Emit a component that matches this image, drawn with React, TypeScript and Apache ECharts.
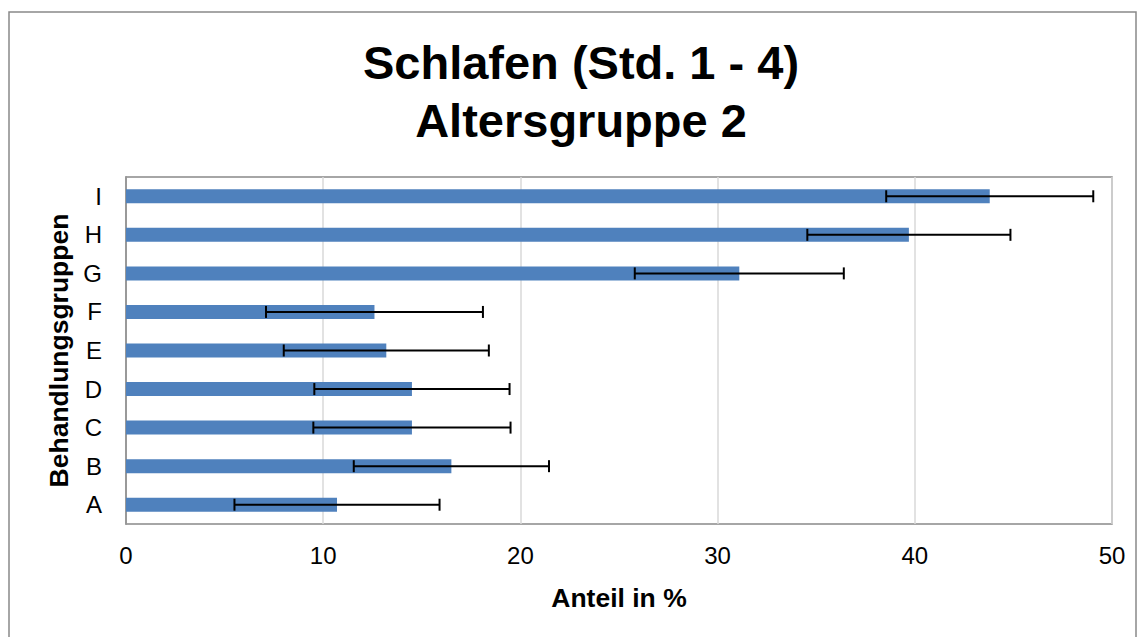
import React, { useEffect, useRef } from "react";
import * as echarts from "echarts";

const categories = ["A", "B", "C", "D", "E", "F", "G", "H", "I"];
const values = [10.7, 16.5, 14.5, 14.5, 13.2, 12.6, 31.1, 39.7, 43.8];
const errors = [5.2, 4.95, 5.0, 4.95, 5.2, 5.5, 5.3, 5.15, 5.25];
const xTicks = { min: 0, max: 50, interval: 10 };
const titleLines = ["Schlafen (Std. 1 - 4)", "Altersgruppe 2"];
const xName = "Anteil in %";
const yName = "Behandlungsgruppen";

const FONT = "'Liberation Sans', Arial, sans-serif";

export default function App() {
  const ref = useRef<HTMLDivElement>(null);
  useEffect(() => {
    if (!ref.current) return;
    const chart = echarts.init(ref.current, null, { renderer: "svg" });
    const errData = categories.map((c, i) => [i, values[i] - errors[i], values[i] + errors[i]]);
    chart.setOption({
      animation: false,
      backgroundColor: "#fff",
      textStyle: { fontFamily: FONT },
      graphic: [
        {
          type: "rect",
          shape: { x: 9, y: 12, width: 1127, height: 640 },
          style: { fill: "none", stroke: "#898989", lineWidth: 1.5 },
          silent: true,
        },
        {
          type: "text",
          x: 581,
          y: 62,
          style: {
            text: titleLines[0],
            font: `bold 47px ${FONT}`,
            fill: "#000",
            textAlign: "center",
            textVerticalAlign: "middle",
          },
        },
        {
          type: "text",
          x: 581,
          y: 120,
          style: {
            text: titleLines[1],
            font: `bold 47px ${FONT}`,
            fill: "#000",
            textAlign: "center",
            textVerticalAlign: "middle",
          },
        },
      ],
      grid: {
        left: 126,
        top: 177,
        right: 30,
        bottom: 113,
        show: true,
        borderColor: "#898989",
        borderWidth: 1.5,
        containLabel: false,
      },
      xAxis: {
        type: "value",
        min: xTicks.min,
        max: xTicks.max,
        interval: xTicks.interval,
        name: xName,
        nameLocation: "middle",
        nameGap: 60,
        nameTextStyle: { fontFamily: FONT, fontSize: 26.5, fontWeight: "bold", color: "#000" },
        axisLine: { show: false },
        axisTick: { show: false },
        axisLabel: { fontFamily: FONT, fontSize: 24, color: "#000", margin: 19 },
        splitLine: { show: true, lineStyle: { color: "#d9d9d9", width: 1.5 } },
      },
      yAxis: {
        type: "category",
        data: categories,
        name: yName,
        nameLocation: "middle",
        nameGap: 54,
        nameRotate: 90,
        nameTextStyle: { fontFamily: FONT, fontSize: 26.5, fontWeight: "bold", color: "#000" },
        axisLine: { show: true, lineStyle: { color: "#898989", width: 1.5 } },
        axisTick: { show: false },
        axisLabel: { fontFamily: FONT, fontSize: 24, color: "#000", margin: 24 },
        splitLine: { show: false },
      },
      series: [
        {
          type: "bar",
          data: values,
          barWidth: 14,
          itemStyle: { color: "#4f81bd" },
          z: 2,
        },
        {
          type: "custom",
          data: errData,
          encode: { x: [1, 2], y: 0 },
          z: 3,
          renderItem: (params: any, api: any) => {
            const idx = api.value(0);
            const p1 = api.coord([api.value(1), idx]);
            const p2 = api.coord([api.value(2), idx]);
            const h = 6;
            const style = { stroke: "#000", lineWidth: 2 };
            return {
              type: "group",
              children: [
                { type: "line", shape: { x1: p1[0], y1: p1[1], x2: p2[0], y2: p2[1] }, style },
                { type: "line", shape: { x1: p1[0], y1: p1[1] - h, x2: p1[0], y2: p1[1] + h }, style },
                { type: "line", shape: { x1: p2[0], y1: p2[1] - h, x2: p2[0], y2: p2[1] + h }, style },
              ],
            };
          },
        },
      ],
    });
    return () => chart.dispose();
  }, []);
  return (
    <div
      ref={ref}
      style={{ position: "fixed", left: 0, top: 0, width: 1142, height: 637 }}
    />
  );
}
